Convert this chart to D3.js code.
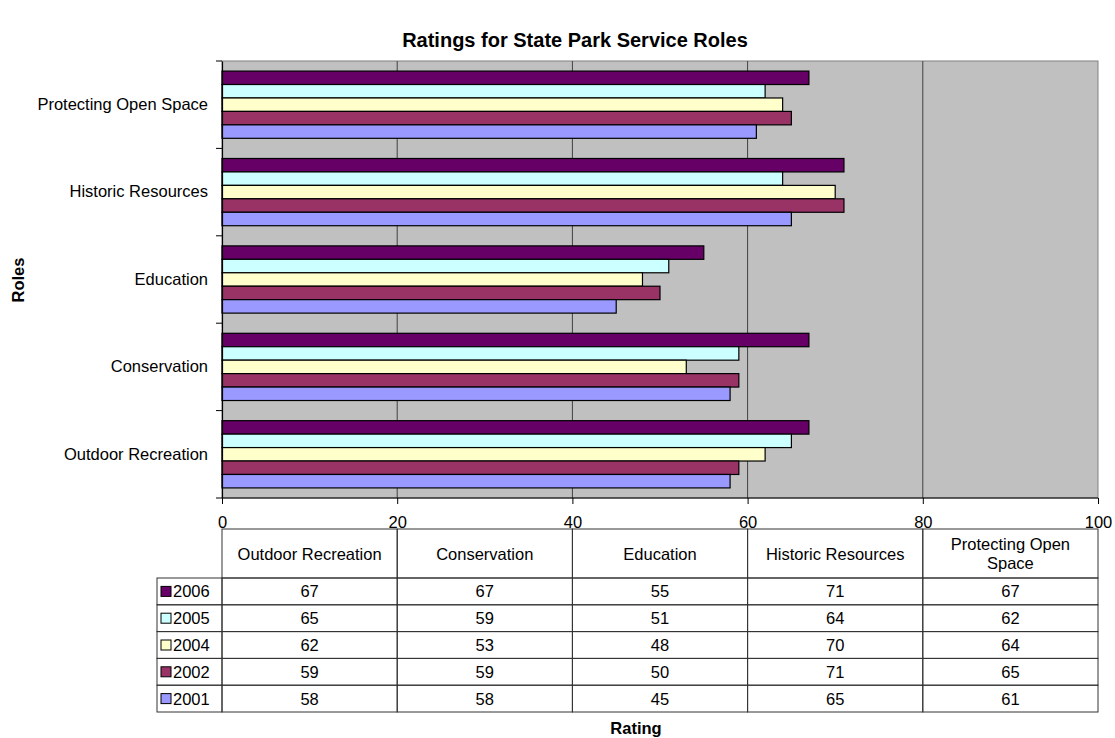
<!DOCTYPE html>
<html>
<head>
<meta charset="utf-8">
<script src="https://cdn.jsdelivr.net/npm/d3@7/dist/d3.min.js"></script>
<style>
  html, body { margin: 0; padding: 0; background: #ffffff; }
  svg { display: block; font-family: "Liberation Sans", Arial, sans-serif; }
</style>
</head>
<body>
<svg id="chart" width="1115" height="738"></svg>
<script>
// Roles, bottom to top on the chart (left to right in the table)
const roles = ["Outdoor Recreation", "Conservation", "Education", "Historic Resources", "Protecting Open Space"];
// Survey years, listed top to bottom inside each group
const years = ["2006", "2005", "2004", "2002", "2001"];
const yearColors = ["#660066", "#ccffff", "#ffffcc", "#993366", "#9999ff"];

// Ratings per year, one value per role
const r2006 = [67, 67, 55, 71, 67];
const r2005 = [65, 59, 51, 64, 62];
const r2004 = [62, 53, 48, 70, 64];
const r2002 = [59, 59, 50, 71, 65];
const r2001 = [58, 58, 45, 65, 61];
const ratings = [r2006, r2005, r2004, r2002, r2001];

const xTicks = [0, 20, 40, 60, 80, 100];

const FS = 16.5;      // label font size
const svg = d3.select("#chart");
const plot = { left: 222, right: 1098, top: 61, bottom: 498 };

const x = d3.scaleLinear().domain([0, 100]).range([plot.left, plot.right]);
const y = d3.scaleBand().domain(roles).range([plot.bottom, plot.top]).padding(0);
const bw = y.bandwidth();
const inner = d3.scaleBand().domain(years)
  .range([bw * 0.75 / 6.5, bw - bw * 0.75 / 6.5]).padding(0);

// Title
svg.append("text")
  .attr("x", 575).attr("y", 47)
  .attr("text-anchor", "middle")
  .attr("font-size", 20).attr("font-weight", "bold")
  .text("Ratings for State Park Service Roles");

// Plot background
svg.append("rect")
  .attr("x", plot.left).attr("y", plot.top)
  .attr("width", plot.right - plot.left).attr("height", plot.bottom - plot.top)
  .attr("fill", "#c0c0c0").attr("stroke", "#808080").attr("stroke-width", 1);

// Vertical gridlines
svg.append("g").selectAll("line")
  .data(xTicks.filter(d => d > 0 && d < 100))
  .join("line")
  .attr("x1", d => x(d)).attr("x2", d => x(d))
  .attr("y1", plot.top).attr("y2", plot.bottom)
  .attr("stroke", "#404040").attr("stroke-width", 1);

// Bars
const series = years.map((yr, i) => ({ year: yr, color: yearColors[i], values: ratings[i] }));
const groups = svg.append("g").selectAll("g")
  .data(series).join("g")
  .attr("fill", d => d.color);
groups.selectAll("rect")
  .data(d => d.values.map((v, j) => ({ year: d.year, role: roles[j], value: v })))
  .join("rect")
  .attr("x", x(0))
  .attr("y", d => y(d.role) + inner(d.year))
  .attr("width", d => x(d.value) - x(0))
  .attr("height", inner.bandwidth())
  .attr("stroke", "#000").attr("stroke-width", 1.2);

// Left axis with category labels
const yAxis = d3.axisLeft(y).tickSize(0).tickPadding(14);
const yg = svg.append("g").attr("transform", `translate(${plot.left},0)`).call(yAxis);
yg.select(".domain").attr("stroke", "#000").attr("stroke-width", 1.2);
yg.selectAll("text").attr("font-size", FS).attr("fill", "#000")
  .attr("font-family", "Liberation Sans, Arial, sans-serif");
// tick marks between categories
const bounds = d3.range(roles.length + 1).map(i => plot.bottom - i * bw);
svg.append("g").selectAll("line").data(bounds).join("line")
  .attr("x1", plot.left - 6).attr("x2", plot.left)
  .attr("y1", d => d).attr("y2", d => d)
  .attr("stroke", "#000").attr("stroke-width", 1);

// Bottom axis
const xAxis = d3.axisBottom(x).tickValues(xTicks).tickSize(6).tickPadding(12).tickFormat(d3.format("d"));
const xg = svg.append("g").attr("transform", `translate(0,${plot.bottom})`).call(xAxis);
xg.select(".domain").attr("stroke", "#000").attr("stroke-width", 1.2).attr("d", `M${plot.left},0H${plot.right}`);
xg.selectAll(".tick line").attr("stroke", "#000");
xg.selectAll("text").attr("font-size", FS).attr("fill", "#000")
  .attr("font-family", "Liberation Sans, Arial, sans-serif");

// Axis titles
svg.append("text")
  .attr("transform", "translate(24,280) rotate(-90)")
  .attr("text-anchor", "middle")
  .attr("font-size", FS).attr("font-weight", "bold")
  .text("Roles");
svg.append("text")
  .attr("x", 636).attr("y", 734)
  .attr("text-anchor", "middle")
  .attr("font-size", FS).attr("font-weight", "bold")
  .text("Rating");

// Data table beneath the axis
const tbl = { top: 529, headBottom: 578, rowH: 26.8, keyLeft: 157 };
const colW = (x(100) - x(0)) / roles.length;
const colEdges = roles.map((r, i) => x(0) + i * colW);
const tg = svg.append("g").attr("font-size", FS);
const lineColor = "#333";

// header cells
tg.selectAll("rect.head").data(roles).join("rect")
  .attr("class", "head")
  .attr("x", (d, i) => colEdges[i]).attr("y", tbl.top)
  .attr("width", colW).attr("height", tbl.headBottom - tbl.top)
  .attr("fill", "none").attr("stroke", lineColor);
const headerLines = roles.map(r => r === "Protecting Open Space" ? ["Protecting Open", "Space"] : [r]);
tg.selectAll("text.head").data(headerLines).join("text")
  .attr("class", "head")
  .attr("x", (d, i) => colEdges[i] + colW / 2)
  .attr("y", d => (tbl.top + tbl.headBottom) / 2 + 6 - (d.length - 1) * 9.5)
  .attr("text-anchor", "middle")
  .selectAll("tspan").data(d => d).join("tspan")
  .attr("x", function () { return this.parentNode.getAttribute("x"); })
  .attr("dy", (d, i) => i === 0 ? 0 : 19)
  .text(d => d);

// value rows
series.forEach((s, i) => {
  const ry = tbl.headBottom + i * tbl.rowH;
  tg.append("rect")
    .attr("x", tbl.keyLeft).attr("y", ry)
    .attr("width", x(0) - tbl.keyLeft).attr("height", tbl.rowH)
    .attr("fill", "none").attr("stroke", lineColor);
  tg.append("rect")
    .attr("x", tbl.keyLeft + 4).attr("y", ry + tbl.rowH / 2 - 5)
    .attr("width", 10).attr("height", 10)
    .attr("fill", s.color).attr("stroke", "#000").attr("stroke-width", 1);
  tg.append("text")
    .attr("x", tbl.keyLeft + 16).attr("y", ry + tbl.rowH / 2 + 6)
    .text(s.year);
  s.values.forEach((v, j) => {
    tg.append("rect")
      .attr("x", colEdges[j]).attr("y", ry)
      .attr("width", colW).attr("height", tbl.rowH)
      .attr("fill", "none").attr("stroke", lineColor);
    tg.append("text")
      .attr("x", colEdges[j] + colW / 2).attr("y", ry + tbl.rowH / 2 + 6)
      .attr("text-anchor", "middle")
      .text(v);
  });
});
</script>
</body>
</html>
